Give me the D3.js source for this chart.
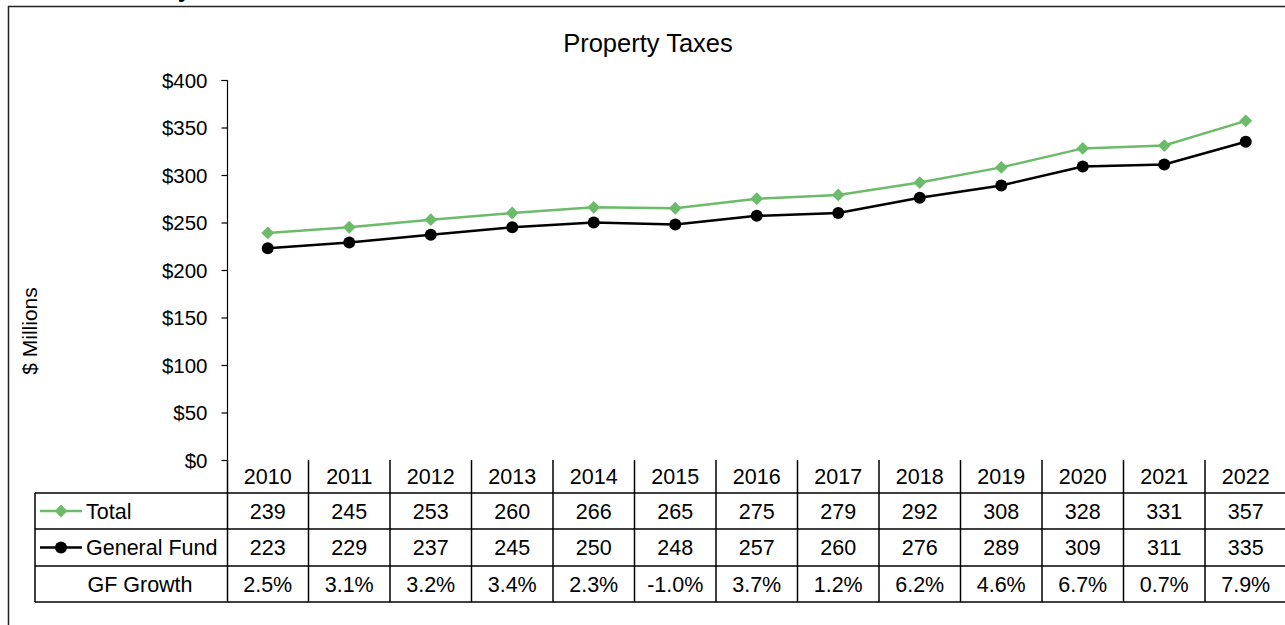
<!DOCTYPE html>
<html>
<head>
<meta charset="utf-8">
<script src="https://cdn.jsdelivr.net/npm/d3@7"></script>
<style>
  body { margin: 0; background: #fff; }
  text { font-family: "Liberation Sans", Arial, sans-serif; fill: #000; }
</style>
</head>
<body>
<script>
const years = [2010, 2011, 2012, 2013, 2014, 2015, 2016, 2017, 2018, 2019, 2020, 2021, 2022]
const total = [239, 245, 253, 260, 266, 265, 275, 279, 292, 308, 328, 331, 357]
const generalFund = [223, 229, 237, 245, 250, 248, 257, 260, 276, 289, 309, 311, 335]
const gfGrowth = ['2.5%', '3.1%', '3.2%', '3.4%', '2.3%', '-1.0%', '3.7%', '1.2%', '6.2%', '4.6%', '6.7%', '0.7%', '7.9%']
const yTicks = [0, 50, 100, 150, 200, 250, 300, 350, 400]

let width = 1285, height = 625
const green = '#6cbb6a'

let svg = d3.select('body').append('svg')
  .attr('width', width)
  .attr('height', height)

// cut-off heading above the frame (only its descender shows)
svg.append('text')
  .attr('x', 191).attr('y', -3)
  .attr('text-anchor', 'end')
  .style('font-size', '24px').style('font-weight', 'bold')
  .text('y')

// outer frame
svg.append('rect')
  .attr('x', 8.5).attr('y', 6.5)
  .attr('width', 1300).attr('height', 700)
  .attr('fill', 'none').attr('stroke', '#222').attr('stroke-width', 1.5)

let x = d3.scaleBand().domain(years).range([227, 227 + 81.5 * years.length])
let y = d3.scaleLinear().domain([0, 400]).range([460, 80])

svg.append('text')
  .attr('x', 648).attr('y', 52)
  .attr('text-anchor', 'middle')
  .style('font-size', '25.5px')
  .text('Property Taxes')

// y axis
let yAxis = d3.axisLeft(y).tickValues(yTicks).tickSize(6).tickPadding(14)
  .tickFormat(d => '$' + d)
let gy = svg.append('g').attr('transform', 'translate(227.5,0)').call(yAxis)
gy.select('.domain').attr('stroke', '#000').attr('stroke-width', 1.2).attr('d', 'M-6,80.5H0V460.5')
gy.selectAll('.tick line').attr('stroke', '#000').attr('stroke-width', 1.2)
gy.selectAll('.tick text').style('font-size', '20.5px').style('font-family', '"Liberation Sans", Arial, sans-serif').attr('dy', '0.35em')

svg.append('text')
  .attr('transform', 'translate(37,331)rotate(-90)')
  .attr('text-anchor', 'middle')
  .style('font-size', '21px')
  .text('$ Millions')

// lines
let cx = d => x(d) + x.bandwidth() / 2
let line = d3.line().x(d => cx(d.year)).y(d => y(d.v))
let totalData = years.map((yr, i) => ({ year: yr, v: total[i] }))
let gfData = years.map((yr, i) => ({ year: yr, v: generalFund[i] }))

svg.append('path').datum(totalData).attr('d', line)
  .attr('fill', 'none').attr('stroke', green).attr('stroke-width', 2.5)
svg.append('path').datum(gfData).attr('d', line)
  .attr('fill', 'none').attr('stroke', '#000').attr('stroke-width', 2.5)

let diamond = d3.symbol().type(d3.symbolDiamond2).size(105)
svg.selectAll('.tm').data(totalData).enter().append('path')
  .attr('transform', d => `translate(${cx(d.year)},${y(d.v)})`)
  .attr('d', diamond).attr('fill', green)
svg.selectAll('.gm').data(gfData).enter().append('circle')
  .attr('cx', d => cx(d.year)).attr('cy', d => y(d.v)).attr('r', 6)
  .attr('fill', '#000')

// data table
const rowY = [460, 493, 529, 566, 602]
let tbl = svg.append('g')
const lineStyle = sel => sel.attr('stroke', '#000').attr('stroke-width', 1.5)
const right = x.range()[1]

for (let r = 1; r < rowY.length; r++) {
  tbl.append('line').attr('x1', 35).attr('x2', right).attr('y1', rowY[r]).attr('y2', rowY[r]).call(lineStyle)
}
tbl.append('line').attr('x1', 35).attr('x2', 35).attr('y1', rowY[1]).attr('y2', rowY[4]).call(lineStyle)
years.forEach(yr => {
  tbl.append('line').attr('x1', x(yr) + x.bandwidth()).attr('x2', x(yr) + x.bandwidth())
    .attr('y1', rowY[0]).attr('y2', rowY[4]).call(lineStyle)
})
tbl.append('line').attr('x1', 227.5).attr('x2', 227.5).attr('y1', rowY[0]).attr('y2', rowY[4]).call(lineStyle)

const rows = [years, total, generalFund, gfGrowth]
rows.forEach((vals, r) => {
  tbl.selectAll('.r' + r).data(vals).enter().append('text')
    .attr('x', (d, i) => cx(years[i]))
    .attr('y', (rowY[r] + rowY[r + 1]) / 2)
    .attr('dy', '0.36em')
    .attr('text-anchor', 'middle')
    .style('font-size', '21.5px')
    .text(d => d)
})

// row labels with legend keys
const labels = [
  { name: 'Total', key: 'diamond' },
  { name: 'General Fund', key: 'circle' },
  { name: 'GF Growth', key: null }
]
labels.forEach((l, i) => {
  let my = (rowY[i + 1] + rowY[i + 2]) / 2
  if (l.key) {
    let col = l.key === 'diamond' ? green : '#000'
    tbl.append('line').attr('x1', 40).attr('x2', 82).attr('y1', my).attr('y2', my)
      .attr('stroke', col).attr('stroke-width', 2.5)
    if (l.key === 'diamond') {
      tbl.append('path').attr('transform', `translate(61,${my})`).attr('d', diamond).attr('fill', green)
    } else {
      tbl.append('circle').attr('cx', 61).attr('cy', my).attr('r', 6).attr('fill', '#000')
    }
    tbl.append('text').attr('x', 86).attr('y', my).attr('dy', '0.36em')
      .style('font-size', '21.5px').text(l.name)
  } else {
    tbl.append('text').attr('x', 140).attr('y', my).attr('dy', '0.36em')
      .attr('text-anchor', 'middle')
      .style('font-size', '21.5px').text(l.name)
  }
})
</script>
</body>
</html>
